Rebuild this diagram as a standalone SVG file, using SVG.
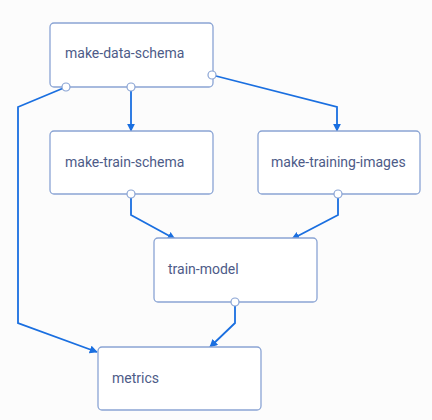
<svg xmlns="http://www.w3.org/2000/svg" width="432" height="420" viewBox="0 0 432 420">
<style>
.box{fill:#fff;stroke:#8aa4d4;stroke-width:1.3}
.lbl{font-family:Roboto,"Noto Sans",sans-serif;font-size:14px;fill:#4d5b88}
.edge{fill:none;stroke:#1a6fe0;stroke-width:1.8}
.port{fill:#fff;stroke:#8aa4d4;stroke-width:1.2}
</style>
<defs>
<marker id="arr" viewBox="0 0 10 10" refX="9" refY="5" markerWidth="4.5" markerHeight="4.5" orient="auto" markerUnits="strokeWidth">
<path d="M0,0 L10,5 L0,10 z" fill="#1a6fe0"/>
</marker>
</defs>
<rect width="432" height="420" fill="#fcfcfc"/>
<g id="connectors">
<path class="edge" d="M212,75 L337,107 L337,131" marker-end="url(#arr)"/>
<path class="edge" d="M131,87 L131,131" marker-end="url(#arr)"/>
<path class="edge" d="M66,87 L18,107 L18,323 L97,352" marker-end="url(#arr)"/>
<path class="edge" d="M131,194 L131,215 L175,239" marker-end="url(#arr)"/>
<path class="edge" d="M338,194 L338,215 L292,239" marker-end="url(#arr)"/>
<path class="edge" d="M235,302 L235,323 L210,347" marker-end="url(#arr)"/>
</g>
<g id="make-data-schema">
<rect class="box" x="50" y="23" width="163" height="64" rx="4"/>
<text class="lbl" x="65" y="58">make-data-schema</text>
<circle class="port" cx="66" cy="87" r="4"/>
<circle class="port" cx="131" cy="87" r="4"/>
<circle class="port" cx="212" cy="75" r="4"/>
</g>
<g id="make-train-schema">
<rect class="box" x="50" y="131" width="163" height="63" rx="4"/>
<text class="lbl" x="65" y="167">make-train-schema</text>
<circle class="port" cx="131" cy="194" r="4"/>
</g>
<g id="make-training-images">
<rect class="box" x="258" y="131" width="162" height="63" rx="4"/>
<text class="lbl" x="271" y="167">make-training-images</text>
<circle class="port" cx="338" cy="194" r="4"/>
</g>
<g id="train-model">
<rect class="box" x="154" y="238" width="163" height="64" rx="4"/>
<text class="lbl" x="168" y="274">train-model</text>
<circle class="port" cx="235" cy="302" r="4"/>
</g>
<g id="metrics">
<rect class="box" x="98" y="347" width="163" height="63" rx="4"/>
<text class="lbl" x="112" y="383">metrics</text>
</g>
</svg>
